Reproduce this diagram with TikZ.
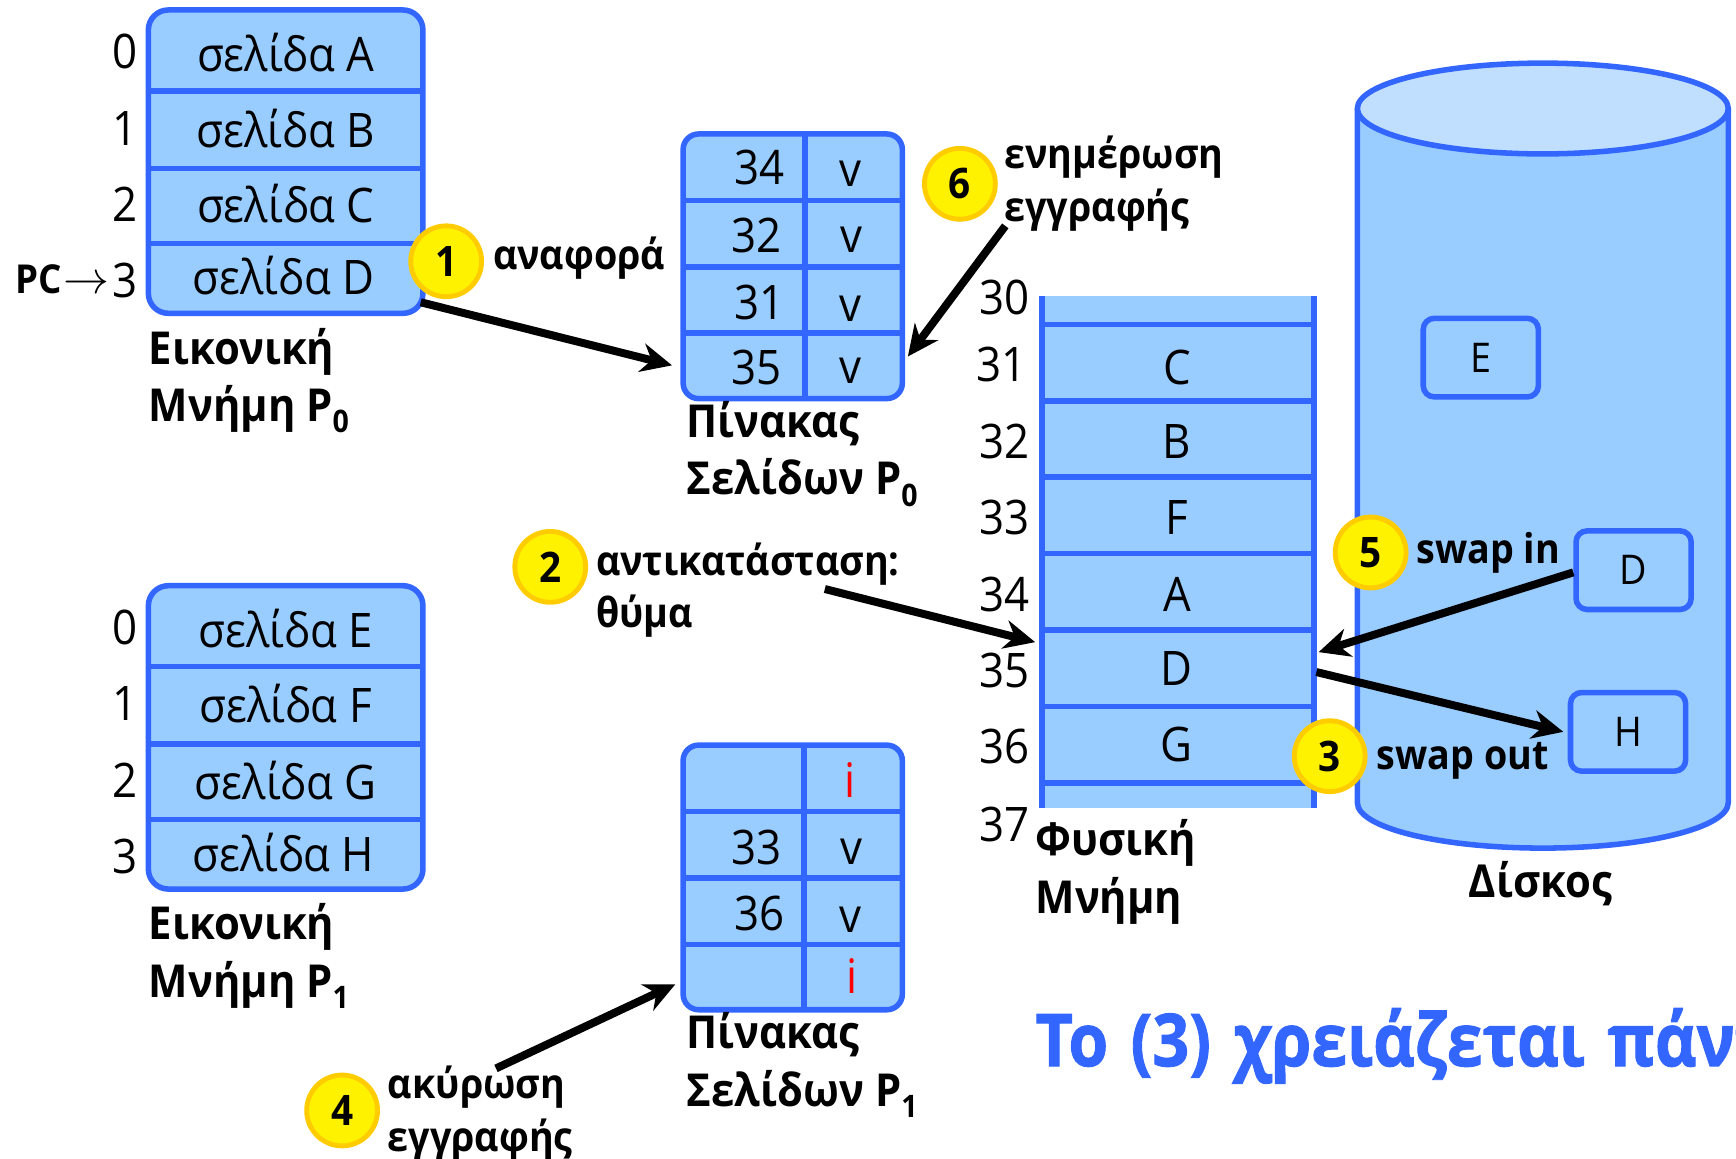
\documentclass[tikz,border=0pt]{standalone}
\usepackage{fontspec}
\setmainfont[FakeStretch=0.92]{Open Sans}
\newfontfamily\headfont[FakeStretch=0.88,WordSpace=1.35,BoldFeatures={FakeBold=1.2}]{Open Sans}
\usetikzlibrary{arrows.meta}
\definecolor{cellblue}{HTML}{99CCFF}
\definecolor{lineblue}{HTML}{3366FF}
\definecolor{diskblue}{HTML}{C0DFFF}
\definecolor{stepgold}{HTML}{FFCC00}
\newcommand{\procsub}[1]{\raisebox{-0.45ex}{\fontsize{14}{14}\selectfont #1}}
\tikzset{
    pagebox/.style={shape=rectangle,draw=lineblue,fill=cellblue,line width=2.5pt,rounded corners=9pt,inner sep=0pt},
    rowline/.style={draw=lineblue,line width=2.5pt},
    celltext/.style={font=\fontsize{21.5}{21.5}\selectfont,anchor=base,inner sep=0pt},
    boldlabel/.style={font=\fontsize{20.5}{26}\selectfont\bfseries,anchor=base west,inner sep=0pt,align=left},
    steplabel/.style={font=\fontsize{18.5}{23.7}\selectfont\bfseries,anchor=base west,inner sep=0pt,align=left},
    stepmark/.style={shape=circle,draw=stepgold,fill=yellow,line width=2.2pt,minimum size=32pt,inner sep=0pt,font=\fontsize{19}{19}\selectfont\bfseries},
    bigarrow/.style={draw=black,line width=3.6pt,-{Stealth[length=14pt,width=13pt,inset=4.5pt]}}
}
\begin{document}
\begin{tikzpicture}[x=0.5pt,y=-0.5pt]
    \useasboundingbox (0,0) rectangle (1568,1046);

    % disk
    \path[fill=cellblue,draw=lineblue,line width=2.5pt] (1226,98) -- (1226,725) arc[start angle=180,end angle=360,x radius=167.5,y radius=-41] -- (1561,98);
    \path[fill=diskblue,draw=lineblue,line width=2.5pt] (1393.5,98) ellipse[x radius=167.5,y radius=41];
    \node[pagebox,minimum width=52pt,minimum height=35.5pt,rounded corners=5pt] (diskE) at (1337.5,323) {\fontsize{18.5}{18.5}\selectfont E};
    \node[pagebox,minimum width=52pt,minimum height=35.5pt,rounded corners=5pt] (diskD) at (1475.5,515) {\fontsize{18.5}{18.5}\selectfont D};
    \node[pagebox,minimum width=52pt,minimum height=35.5pt,rounded corners=5pt] (diskH) at (1470.5,661) {\fontsize{18.5}{18.5}\selectfont H};
    \node[boldlabel] (diskname) at (1326,811) {Δίσκος};

    % virtual memory P0
    \node[pagebox,minimum width=124pt,minimum height=137pt] (vm0) at (258,146) {};
    \draw[rowline] (134,82) -- (382,82);
    \draw[rowline] (134,152) -- (382,152);
    \draw[rowline] (134,220) -- (382,220);
    \node[celltext] (vm0a) at (258,65) {σελίδα A};
    \node[celltext] (vm0b) at (258,133) {σελίδα B};
    \node[celltext] (vm0c) at (258,201) {σελίδα C};
    \node[celltext] (vm0d) at (256,266) {σελίδα D};
    \node[celltext] (n00) at (113,62) {0};
    \node[celltext] (n01) at (113,131) {1};
    \node[celltext] (n02) at (113,200) {2};
    \node[celltext] (n03) at (113,269) {3};
    \node[font=\fontsize{18}{18}\selectfont\bfseries,anchor=base west,inner sep=0pt] (pc) at (14,265) {PC};
    \node[anchor=base west,inner sep=0pt,font=\fontsize{21}{21}\selectfont] (pcarrow) at (57,265) {$\rightarrow$};
    \node[boldlabel] (vm0name) at (134,381) {Εικονική\\Μνήμη P\procsub{0}};

    % virtual memory P1
    \node[pagebox,minimum width=124pt,minimum height=137pt] (vm1) at (258,666) {};
    \draw[rowline] (134,602) -- (382,602);
    \draw[rowline] (134,672) -- (382,672);
    \draw[rowline] (134,740) -- (382,740);
    \node[celltext] (vm1e) at (258,585) {σελίδα E};
    \node[celltext] (vm1f) at (258,653) {σελίδα F};
    \node[celltext] (vm1g) at (258,722) {σελίδα G};
    \node[celltext] (vm1h) at (256,787) {σελίδα H};
    \node[celltext] (n10) at (113,582) {0};
    \node[celltext] (n11) at (113,651) {1};
    \node[celltext] (n12) at (113,720) {2};
    \node[celltext] (n13) at (113,789) {3};
    \node[boldlabel] (vm1name) at (134,901) {Εικονική\\Μνήμη P\procsub{1}};

    % page table P0
    \node[pagebox,minimum width=99pt,minimum height=119.5pt,rounded corners=7pt] (pt0) at (716,240.5) {};
    \draw[rowline] (617,181) -- (815,181);
    \draw[rowline] (617,241) -- (815,241);
    \draw[rowline] (617,301) -- (815,301);
    \draw[rowline] (727,121) -- (727,360);
    \node[celltext] (t034) at (686,167) {34};
    \node[celltext] (t032) at (683,228) {32};
    \node[celltext] (t031) at (686,289) {31};
    \node[celltext] (t035) at (683,347) {35};
    \node[celltext] (v00) at (768,168) {v};
    \node[celltext] (v01) at (769,228) {v};
    \node[celltext] (v02) at (768,290) {v};
    \node[celltext] (v03) at (768,346) {v};
    \node[boldlabel] (pt0name) at (620,447) {Πίνακας\\Σελίδων P\procsub{0}};

    % page table P1
    \node[pagebox,minimum width=99pt,minimum height=119.5pt,rounded corners=7pt] (pt1) at (716,792.5) {};
    \draw[rowline] (617,733) -- (815,733);
    \draw[rowline] (617,793) -- (815,793);
    \draw[rowline] (617,853) -- (815,853);
    \draw[rowline] (726,673) -- (726,912);
    \node[celltext,text=red] (i10) at (768,720) {i};
    \node[celltext] (t133) at (683,781) {33};
    \node[celltext] (v11) at (769,781) {v};
    \node[celltext] (t136) at (686,840) {36};
    \node[celltext] (v12) at (768,842) {v};
    \node[celltext,text=red] (i13) at (770,897) {i};
    \node[boldlabel] (pt1name) at (620,999) {Πίνακας\\Σελίδων P\procsub{1}};

    % physical memory
    \fill[cellblue] (941,267) rectangle (1187,730);
    \draw[rowline] (941,267) -- (941,730);
    \draw[rowline] (1187,267) -- (1187,730);
    \draw[rowline] (941,293) -- (1187,293);
    \draw[rowline] (941,362) -- (1187,362);
    \draw[rowline] (941,431) -- (1187,431);
    \draw[rowline] (941,500) -- (1187,500);
    \draw[rowline] (941,569) -- (1187,569);
    \draw[rowline] (941,638) -- (1187,638);
    \draw[rowline] (941,707) -- (1187,707);
    \node[celltext] (fc) at (1063,347) {C};
    \node[celltext] (fb) at (1063,414) {B};
    \node[celltext] (ff) at (1063,483) {F};
    \node[celltext] (fa) at (1063,552) {A};
    \node[celltext] (fd) at (1063,619) {D};
    \node[celltext] (fg) at (1063,688) {G};
    \node[celltext] (f30) at (907,284) {30};
    \node[celltext] (f31) at (905,345) {31};
    \node[celltext] (f32) at (907,414) {32};
    \node[celltext] (f33) at (907,483) {33};
    \node[celltext] (f34) at (907,552) {34};
    \node[celltext] (f35) at (907,621) {35};
    \node[celltext] (f36) at (907,690) {36};
    \node[celltext] (f37) at (907,760) {37};
    \node[boldlabel] (fname) at (935,825) {Φυσική\\Μνήμη};

    % step marks
    \node[stepmark] (s1) at (403,236) {1};
    \node[stepmark] (s2) at (497,512) {2};
    \node[stepmark] (s3) at (1201,683) {3};
    \node[stepmark] (s4) at (309,1003) {4};
    \node[stepmark] (s5) at (1238,499) {5};
    \node[stepmark] (s6) at (867,166) {6};
    \node[steplabel] (l1) at (445,243) {αναφορά};
    \node[steplabel] (l2) at (538,567) {αντικατάσταση:\\θύμα};
    \node[steplabel] (l3) at (1243,695) {swap out};
    \node[steplabel] (l4) at (350,1040) {ακύρωση\\εγγραφής};
    \node[steplabel] (l5) at (1279,509) {swap in};
    \node[steplabel] (l6) at (907,200) {ενημέρωση\\εγγραφής};

    % free ends of the arrows
    \coordinate (a1s) at (380,273);
    \coordinate (a1e) at (607,330);
    \coordinate (a2s) at (745,532);
    \coordinate (a2e) at (935,580);
    \coordinate (a3s) at (1189,607);
    \coordinate (a3e) at (1412,661);
    \coordinate (a4s) at (448,965);
    \coordinate (a4e) at (610,889);
    \coordinate (a5s) at (1421,517);
    \coordinate (a5e) at (1191,589);
    \coordinate (a6s) at (908,204);
    \coordinate (a6e) at (820,322);

    \draw[bigarrow] (a1s) -- (a1e);
    \draw[bigarrow] (a2s) -- (a2e);
    \draw[bigarrow] (a3s) -- (a3e);
    \draw[bigarrow] (a4s) -- (a4e);
    \draw[bigarrow] (a5s) -- (a5e);
    \draw[bigarrow] (a6s) -- (a6e);

    \node[font=\fontsize{33}{33}\selectfont\headfont\bfseries,text=lineblue,anchor=base west,inner sep=0pt] (title) at (935,963) {Το (3) χρειάζεται πάντα};
\end{tikzpicture}
\end{document}
